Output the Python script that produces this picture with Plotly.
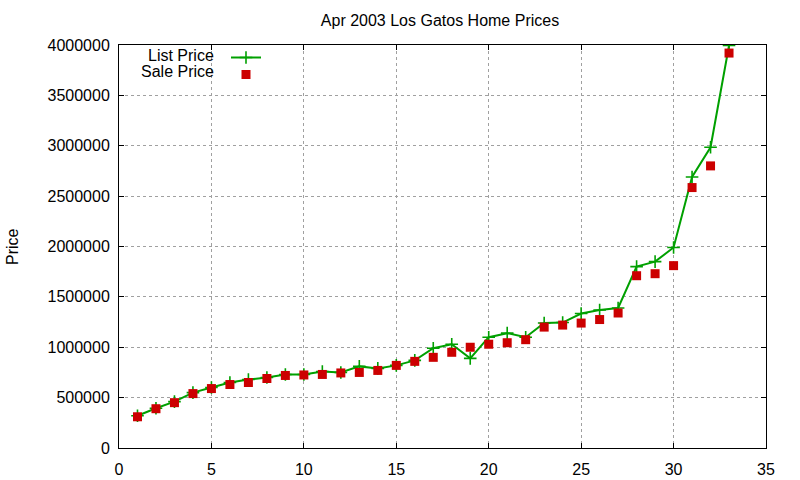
import plotly.graph_objects as go

# listing number, 1..33
listing = list(range(1, 34))

list_price = [
    320000, 395000, 460000, 550000, 600000, 650000, 680000, 700000, 730000, 730000,
    760000, 750000, 810000, 790000, 820000, 870000, 990000, 1030000, 890000, 1100000,
    1140000, 1100000, 1240000, 1245000, 1335000, 1370000, 1390000, 1800000, 1850000, 1990000,
    2690000, 2985000, 3995000,
]

sale_price = [
    310000, 390000, 450000, 540000, 590000, 630000, 650000, 690000, 720000, 725000,
    730000, 745000, 750000, 770000, 820000, 860000, 900000, 950000, 1000000, 1030000,
    1045000, 1075000, 1200000, 1220000, 1240000, 1275000, 1340000, 1710000, 1730000, 1810000,
    2585000, 2800000, 3920000,
]

x_ticks = [0, 5, 10, 15, 20, 25, 30, 35]
y_ticks = list(range(0, 4000001, 500000))

GREEN = "#00a000"
RED = "#cc0000"
FONT = "Liberation Sans, Arial, sans-serif"

# plot area in pixels (gnuplot-like frame)
L, R, T, B = 119, 34, 45, 32
W, H = 800, 480
pw, ph = W - L - R, H - T - B

fig = go.Figure()

fig.add_trace(go.Scatter(
    x=listing, y=list_price,
    mode="lines+markers",
    name=" ",
    line=dict(color=GREEN, width=2),
    marker=dict(symbol="cross-thin", size=9, line=dict(color=GREEN, width=1.6)),
    legend="legend",
))

fig.add_trace(go.Scatter(
    x=listing, y=sale_price,
    mode="markers",
    name=" ",
    marker=dict(symbol="square", size=9, color=RED),
    legend="legend2",
))

axis_common = dict(
    showline=True, linecolor="black", linewidth=1, mirror="ticks",
    ticks="inside", ticklen=5, tickcolor="black", tickwidth=1,
    showgrid=True, gridcolor="#a0a0a0", griddash="dot", gridwidth=1,
    zeroline=False, automargin=False,
    tickfont=dict(family=FONT, size=16, color="black"),
)

fig.update_xaxes(range=[0, 35], tickvals=x_ticks, ticklabelstandoff=7, **axis_common)
fig.update_yaxes(range=[0, 4000000], tickvals=y_ticks, tickformat="d", ticklabelstandoff=5,
                 **axis_common)

# gnuplot-style key: text right-aligned, sample to the right
for label, row_y in [("List Price", 55), ("Sale Price", 72)]:
    fig.add_annotation(
        text=label, xref="paper", yref="paper",
        x=(216 - L) / pw, y=(H - B - row_y) / ph,
        xanchor="right", yanchor="middle", showarrow=False,
        font=dict(family=FONT, size=16, color="black"),
    )

fig.add_annotation(
    text="Price", xref="paper", yref="paper",
    x=(12 - L) / pw, y=(H - B - 247) / ph, textangle=-90,
    xanchor="center", yanchor="middle", showarrow=False,
    font=dict(family=FONT, size=16, color="black"),
)

key_style = dict(xanchor="left", yanchor="top", bgcolor="rgba(0,0,0,0)",
                 font=dict(size=10), x=(226 - L) / pw)

fig.update_layout(
    width=W, height=H,
    margin=dict(l=L, r=R, t=T, b=B),
    paper_bgcolor="white", plot_bgcolor="white",
    title=dict(text="Apr 2003 Los Gatos Home Prices", x=440 / W, xanchor="center",
               y=1 - 20 / H, yanchor="middle",
               font=dict(family=FONT, size=16, color="black")),
    legend=dict(y=(H - B - 43) / ph, **key_style),
    legend2=dict(y=(H - B - 60) / ph, **key_style),
    showlegend=True,
)

fig.write_html("out.html", config={"displayModeBar": False},
               post_script="document.body.style.margin='0';")
